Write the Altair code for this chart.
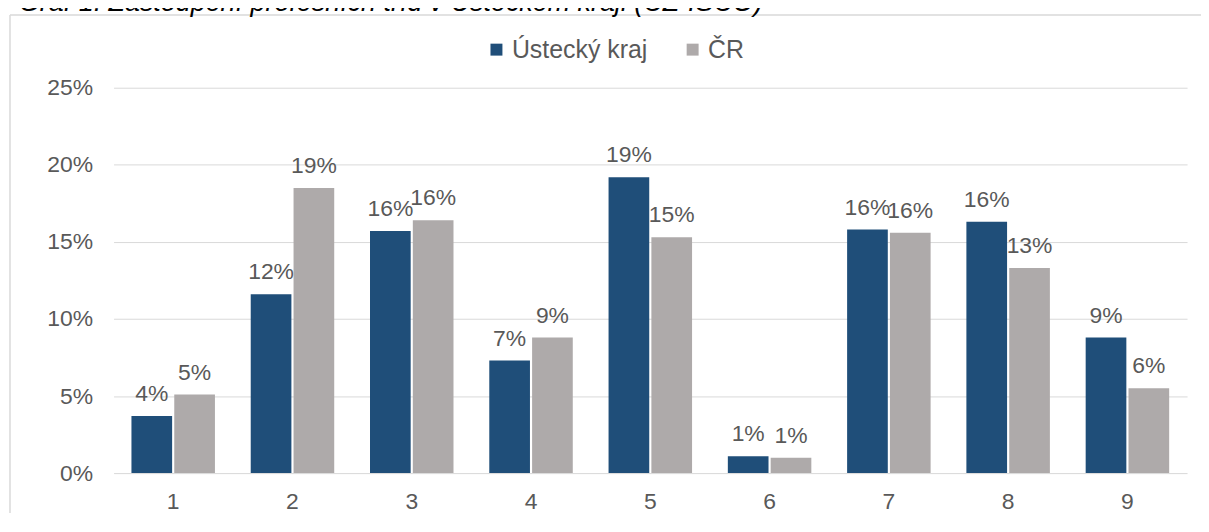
import altair as alt
import pandas as pd

# ---- data ----
categories = ["1", "2", "3", "4", "5", "6", "7", "8", "9"]
series = ["Ústecký kraj", "ČR"]
ustecky = [3.7, 11.6, 15.7, 7.3, 19.2, 1.1, 15.8, 16.3, 8.8]
cr = [5.1, 18.5, 16.4, 8.8, 15.3, 1.0, 15.6, 13.3, 5.5]
y_ticks = [0, 0.05, 0.10, 0.15, 0.20, 0.25]
title_text = "Graf 1: Zastoupení profesních tříd v Ústeckém kraji (CZ-ISCO)"

colors = ["#1F4E79", "#AEAAAA"]
text_color = "#595959"
grid_color = "#D9D9D9"
font = "Liberation Sans"

rows = []
for c, a, b in zip(categories, ustecky, cr):
    rows.append({"cat": c, "series": series[0], "value": a / 100})
    rows.append({"cat": c, "series": series[1], "value": b / 100})
df = pd.DataFrame(rows)

x_enc = alt.X(
    "cat:N",
    sort=categories,
    scale=alt.Scale(paddingInner=0.3, paddingOuter=0.15),
    axis=alt.Axis(
        title=None,
        labelAngle=0,
        labelFont=font,
        labelFontSize=23,
        labelColor=text_color,
        labelPadding=18,
        ticks=False,
        domain=False,
        grid=False,
    ),
)
xoff_enc = alt.XOffset(
    "series:N", sort=series, scale=alt.Scale(paddingInner=0.05)
)
y_enc = alt.Y(
    "value:Q",
    scale=alt.Scale(domain=[0, 0.25], nice=False),
    axis=alt.Axis(
        title=None,
        values=y_ticks,
        format=".0%",
        labelFont=font,
        labelFontSize=23,
        labelColor=text_color,
        labelPadding=21,
        ticks=False,
        domain=False,
        grid=True,
        gridColor=grid_color,
        gridWidth=1,
    ),
)

base = alt.Chart(df)

bars = base.mark_bar().encode(
    x=x_enc,
    xOffset=xoff_enc,
    y=y_enc,
    color=alt.Color(
        "series:N",
        sort=series,
        scale=alt.Scale(domain=series, range=colors),
        legend=alt.Legend(
            title=None,
            orient="none",
            direction="horizontal",
            legendX=372,
            legendY=-51,
            symbolType="square",
            symbolSize=144,
            symbolStrokeWidth=0,
            labelFont=font,
            labelFontSize=25,
            labelColor=text_color,
            labelOffset=3,
            columnPadding=32,
        ),
    ),
)

labels = base.mark_text(
    baseline="alphabetic",
    dy=-15,
    font=font,
    fontSize=23,
    color=text_color,
).encode(
    x=alt.X("cat:N", sort=categories),
    xOffset=alt.XOffset("series:N", sort=series),
    y=alt.Y("value:Q"),
    text=alt.Text("value:Q", format=".0%"),
)

title_df = pd.DataFrame({"t": [title_text]})
title = alt.Chart(title_df).mark_text(
    align="left",
    baseline="alphabetic",
    font=font,
    fontSize=27,
    fontStyle="italic",
    color="#000000",
).encode(x=alt.value(-95), y=alt.value(-77), text="t:N")

# outer chart frame: only its left and top edges fall inside the window
frame_top = alt.Chart(title_df).mark_rule(color=grid_color, strokeWidth=1.5).encode(
    x=alt.value(-104), x2=alt.value(1092), y=alt.value(-73)
)
frame_left = alt.Chart(title_df).mark_rule(color=grid_color, strokeWidth=1.5).encode(
    x=alt.value(-104), y=alt.value(-73), y2=alt.value(427)
)

chart = (
    alt.layer(frame_top, frame_left, bars, labels, title)
    .properties(
        width=1078,
        height=387,
        autosize=alt.AutoSizeParams(type="none"),
        padding={"left": 106, "top": 79, "right": 14, "bottom": 40},
    )
    .configure_view(stroke=None)
)

chart.save("out.html", embed_options={"renderer": "svg", "actions": False})
